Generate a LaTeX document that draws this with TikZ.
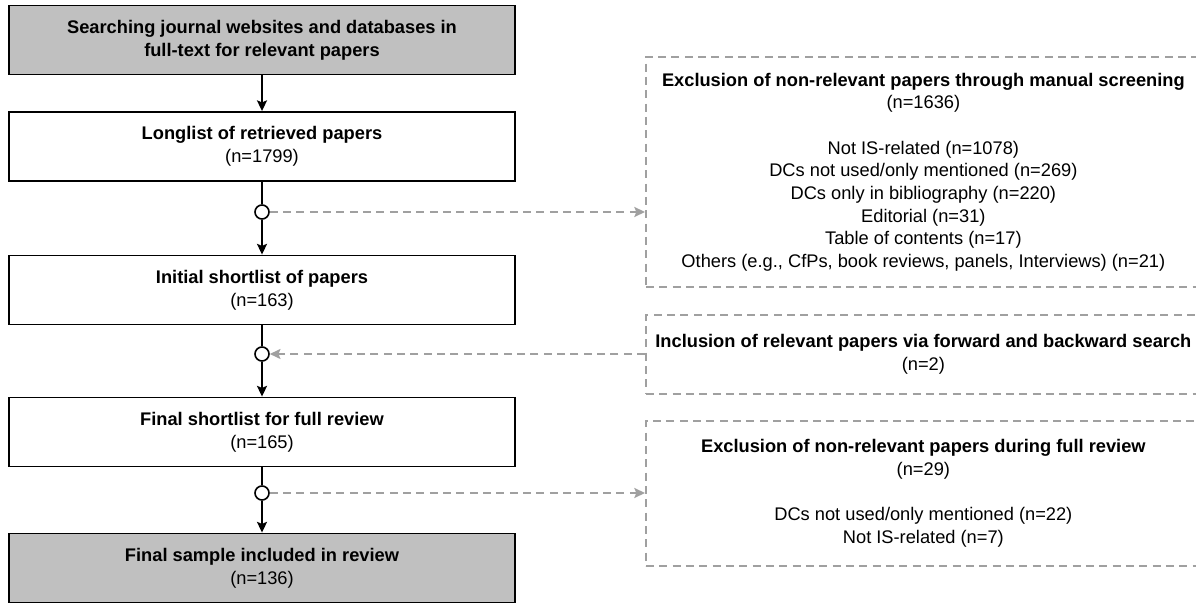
\documentclass[tikz,border=0pt]{standalone}
\usepackage{fontspec}
\setmainfont{Liberation Sans}
\usetikzlibrary{arrows.meta}
\definecolor{shade}{RGB}{192,192,192}
\definecolor{ash}{RGB}{160,160,160}

\begin{document}
\begin{tikzpicture}[x=.75pt,y=-.75pt,font=\fontsize{13.7}{17}\selectfont,
  stage/.style={draw,line width=1.4pt,minimum width=379.5pt,minimum height=51.75pt,align=center,inner sep=0pt},
  note/.style={draw=ash,line width=1.3pt,dash pattern=on 6pt off 4pt,minimum width=416.25pt,anchor=west,align=center,inner sep=0pt},
  dot/.style={circle,draw,fill=white,line width=1.2pt,minimum size=10.5pt,inner sep=0pt},
  flow/.style={line width=1.4pt,-{Stealth[length=8pt,width=7.5pt,inset=1.5pt]}},
  side/.style={ash,line width=1.3pt,dash pattern=on 6pt off 4pt,-{Stealth[length=8pt,width=7.5pt,inset=1.5pt]}}]
\useasboundingbox (0,0) rectangle (1196,605);
% main steps
\node[stage,fill=shade] (s1) at (262,40) {\textbf{Searching journal websites and databases in}\\\textbf{full-text for relevant papers}};
\node[stage] (s2) at (262,146.5) {\textbf{Longlist of retrieved papers}\\(n=1799)};
\node[stage] (s3) at (262,290) {\textbf{Initial shortlist of papers}\\(n=163)};
\node[stage] (s4) at (262,432) {\textbf{Final shortlist for full review}\\(n=165)};
\node[stage,fill=shade] (s5) at (262,568) {\textbf{Final sample included in review}\\(n=136)};
% branch points
\node[dot] (c1) at (262,212) {};
\node[dot] (c2) at (262,354) {};
\node[dot] (c3) at (262,493) {};
% side notes
\node[note,minimum height=172.5pt] (r1) at (645,172) {\textbf{Exclusion of non-relevant papers through manual screening}\\(n=1636)\\[17pt]
  Not IS-related (n=1078)\\DCs not used/only mentioned (n=269)\\DCs only in bibliography (n=220)\\Editorial (n=31)\\Table of contents (n=17)\\Others (e.g., CfPs, book reviews, panels, Interviews) (n=21)};
\node[note,minimum height=59.25pt] (r2) at (645,354.5) {\textbf{Inclusion of relevant papers via forward and backward search}\\(n=2)};
\node[note,minimum height=108.75pt] (r3) at (645,493.5) {\textbf{Exclusion of non-relevant papers during full review}\\(n=29)\\[17pt]
  DCs not used/only mentioned (n=22)\\Not IS-related (n=7)};
% connectors
\draw[flow] (s1) -- (s2);
\draw[line width=1.4pt] (s2) -- (c1); \draw[flow] (c1) -- (s3);
\draw[line width=1.4pt] (s3) -- (c2); \draw[flow] (c2) -- (s4);
\draw[line width=1.4pt] (s4) -- (c3); \draw[flow] (c3) -- (s5);
\draw[side] (c1) -- (c1 -| r1.west);
\draw[side] (c2 -| r2.west) -- (c2);
\draw[side] (c3) -- (c3 -| r3.west);
\end{tikzpicture}
\end{document}
